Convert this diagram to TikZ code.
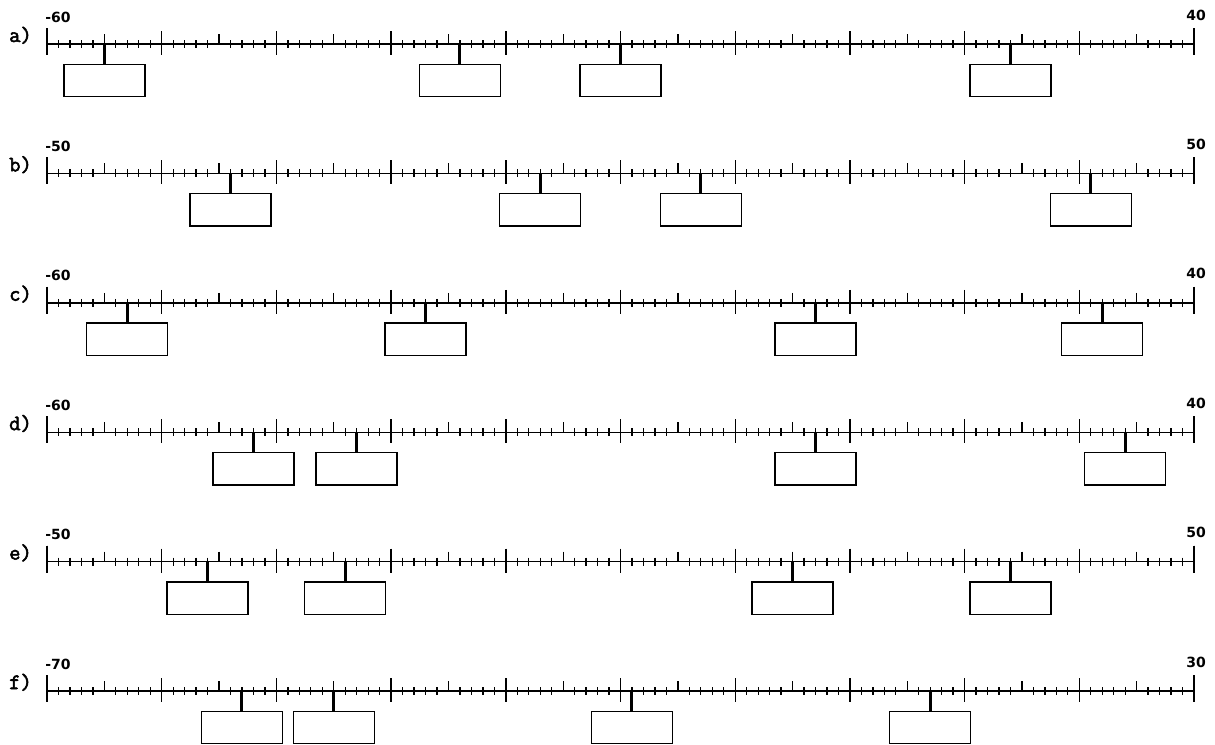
\documentclass[tikz,border=0pt]{standalone}
\usepackage{fontspec}
\newfontfamily\numfont{DejaVu Sans}
\newfontfamily\rowfont[FakeBold=2.5]{Latin Modern Mono}
\begin{document}
\begin{tikzpicture}[x=1pt,y=-1pt,
  axisline/.style={line width=1.4pt},
  minortick/.style={line width=1.3pt},
  majortick/.style={line width=1.4pt},
  endtick/.style={line width=2.8pt},
  markerline/.style={line width=3pt},
  answerbox/.style={draw,line width=1.4pt,minimum width=81pt,minimum height=32.5pt,inner sep=0pt,anchor=north},
  rowlabel/.style={font=\rowfont\fontsize{22}{22}\selectfont,anchor=base west,inner sep=0pt},
  endlabel/.style={font=\numfont\bfseries\fontsize{14}{14}\selectfont,anchor=base,inner sep=0pt}]
\useasboundingbox (0,0) rectangle (1215,744);
\def\xa{47}\def\un{11.47}
\foreach \lab/\lo/\hi/\yy/\ma/\mb/\mc/\md in
  {a/-60/40/44/5/36/50/84,
   b/-50/50/173.4/16/43/57/91,
   c/-60/40/302.8/7/33/67/92,
   d/-60/40/432.2/18/27/67/94,
   e/-50/50/561.6/14/26/65/84,
   f/-70/30/691/17/25/51/77}{
  % axis endpoints
  \coordinate (\lab-s) at (\xa,\yy);
  \coordinate (\lab-e) at (\xa+100*\un,\yy);
  \draw[axisline] (\lab-s) -- (\lab-e);
  % ticks
  \foreach \k in {1,...,99}{
    \pgfmathtruncatemacro{\rem}{mod(\k,10)}
    \ifnum\rem=0
      \draw[majortick] (\xa+\k*\un,\yy-13) -- (\xa+\k*\un,\yy+11);
    \else\ifnum\rem=5
      \draw[minortick] (\xa+\k*\un,\yy-10) -- (\xa+\k*\un,\yy);
    \else
      \draw[minortick] (\xa+\k*\un,\yy-4) -- (\xa+\k*\un,\yy+4);
    \fi\fi
  }
  \draw[majortick] (\xa,\yy-16) -- (\xa,\yy+11);
  \draw[endtick] (\xa,\yy-16) -- (\lab-s);
  \draw[majortick] (\xa+100*\un,\yy-16) -- (\xa+100*\un,\yy+11);
  \draw[endtick] (\xa+100*\un,\yy-16) -- (\lab-e);
  % labels
  \node[rowlabel] (\lab-name) at (9,\yy-2) {\lab)};
  \node[endlabel] (\lab-lo) at (\xa+11,\yy-22) {\lo};
  \node[endlabel] (\lab-hi) at (\xa+100*\un+2,\yy-24) {\hi};
  % markers and boxes
  \foreach \m [count=\i] in {\ma,\mb,\mc,\md}{
    \coordinate (\lab-m\i) at (\xa+\m*\un,\yy);
    \node[answerbox] (\lab-b\i) at (\xa+\m*\un,\yy+19.5) {};
    \draw[markerline] (\lab-m\i) -- (\lab-b\i.north);
  }
}
\end{tikzpicture}
\end{document}
